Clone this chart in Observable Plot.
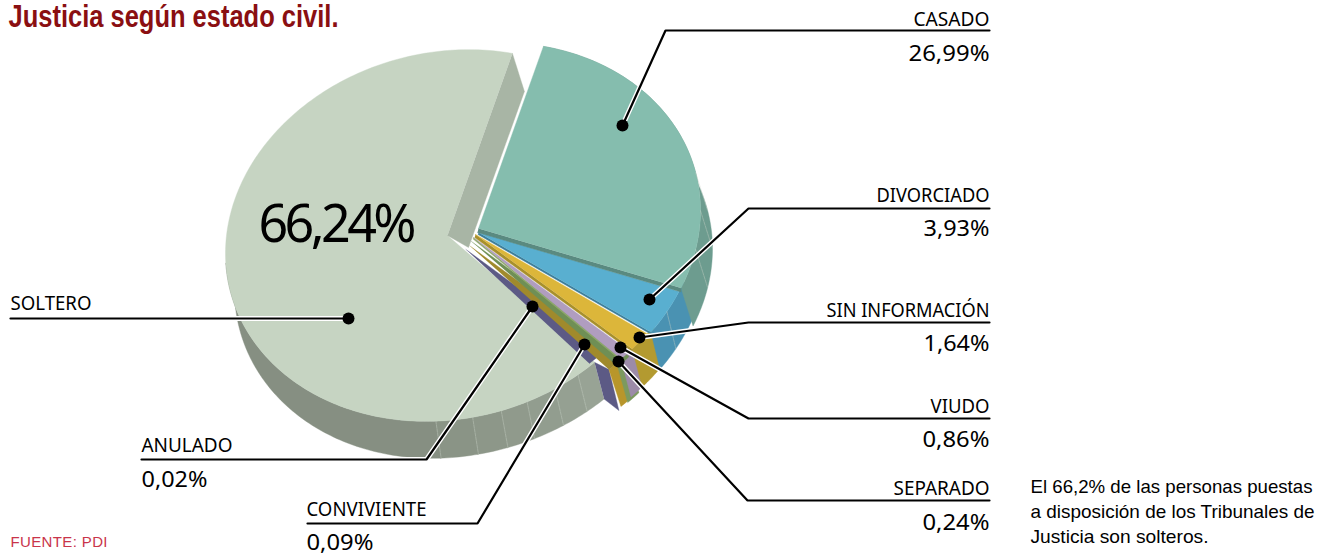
<!DOCTYPE html>
<html lang="es"><head><meta charset="utf-8">
<style>html,body{margin:0;padding:0;background:#fff}svg{display:block}</style>
<script src="https://cdn.jsdelivr.net/npm/d3@7"></script>
<script src="https://cdn.jsdelivr.net/npm/@observablehq/plot@0.6"></script>
</head><body><div id="chart"></div>
<script>
// ---- data ----
const categories = ["SOLTERO","CASADO","DIVORCIADO","SIN INFORMACIÓN","VIUDO","SEPARADO","CONVIVIENTE","ANULADO"];
const shares = [66.24,26.99,3.93,1.64,0.86,0.24,0.09,0.02];
const valueLabels = ["66,24%","26,99%","3,93%","1,64%","0,86%","0,24%","0,09%","0,02%"];
const title = "Justicia según estado civil.";
const source = "FUENTE: PDI";
const note = ["El 66,2% de las personas puestas","a disposición de los Tribunales de","Justicia son solteros."];

// ---- styles ----
const faceColors = ["#c6d4c2","#85bdae","#59afd0","#dcb63a","#b09dbf","#6f8f55","#a08a2c","#5c5a85"];
const wallColors = ["#868f82","#6d9c8f","#4a92b2","#b39a30","#9c8ba8","#7c9a5f","#b8962b","#5c5a85"];
const stripColors = [null,"#5a8a80","#3d7f9a","#a8902c","#8fa96c",null,null,null];

// ---- layout of the tilted, exploded pie ----
const RX = 222, RY = 185, K = 0.08, START = 17, MIN_SWEEP = 1;
const apex = [[447,235],[478,228],[478,232],[475,234],[473,237],[471,241],[469.5,245.5],[465.5,249]];
const reach = [1,1,0.99,0.985,0.98,0.99,0.96,0.87];
const drop = [[5,37],[12,38],[9,37],[10,38],[10,38],[10,36],[12,37],[9,38]];
const stripW = [0,4,2,3,1.5,0,0,0];
const P = (i,th,off=[0,0],rx=RX,ry=RY) => {
  const t = th*Math.PI/180, r = reach[i], sx = rx*r*Math.sin(t);
  return [apex[i][0]+off[0]+sx, apex[i][1]+off[1]-ry*r*Math.cos(t)-K*sx];
};
const arc = (a,b,step=1) => { const o=[]; const n=Math.max(1,Math.ceil((b-a)/step));
  for(let j=0;j<=n;j++) o.push(a+(b-a)*j/n); return o; };
// lower rim of the large slice: narrower on its far-left side
const lowS = t => P(0,t,drop[0],Math.sin(t*Math.PI/180)>0?229:218,185);
const low = (i,t) => i===0 ? lowS(t) : P(i,t,drop[i]);

// angle of every slice is derived from its share; the slimmest keep a visible minimum
const ang = []; let th = START;
shares.forEach((s,i)=>{ if(i===0){ ang[0]=[START+360-s*3.6,START+360]; return; }
  const sw=Math.max(s*3.6,MIN_SWEEP); ang[i]=[th,th+sw]; th+=sw; });
const stackStart = ang[4][0];

// polygons, in painter's order
const polys = [];
const poly = (id,color,pts) => pts.forEach(p=>polys.push({id,color,x:p[0],y:p[1]}));
const wall = (i,a,b,color,tag) => {
  const top = arc(a,b).map(t=>P(i,t));
  const bot = arc(a,b).reverse().map(t=>low(i,t));
  poly("wall"+i+(tag||""),color,[...top,...bot]);
};
const shade = d3.interpolateRgb("#98a395","#8a9486");
const facetEdges = [ang[0][0],144,151,159,166,173.5,183];
for(let f=0;f<facetEdges.length-1;f++) wall(0,facetEdges[f],facetEdges[f+1]+0.2,shade(f/5),"f"+f);
wall(0,183,ang[0][1]-110,wallColors[0],"rest");
{ const a=P(0,ang[0][0]), b=P(6,ang[6][1]);
  poly("quad",wallColors[7],[a,b,[b[0]+10,b[1]+41],lowS(ang[0][0])]); }
for(const i of [6,5,4,3,2,1]) wall(i,i>=5?stackStart:ang[i][0]-(i>1?3:0),ang[i][1],wallColors[i]);
const face = (i,a) => poly("face"+i,faceColors[i],[apex[i],...arc(a,ang[i][1]).map(t=>P(i,t))]);
const strip = i => { if(!stripColors[i]) return;
  const e=P(i,ang[i][1]), w=stripW[i], c=apex[i];
  poly("strip"+i,stripColors[i],[c,e,[e[0],e[1]+w],[c[0]-w/4,c[1]+w]]); };
face(0,ang[0][0]);
{ const a=P(0,ang[0][1]), b=P(0,ang[0][1],[12,38]);
  poly("inner",'#a8b5a5',[a,b,[apex[0][0]+21,apex[0][1]+12],apex[0]]); }
for(const i of [7,6,5]) face(i,stackStart);
strip(4); face(4,ang[4][0]);
strip(3); face(3,ang[3][0]);
strip(2); face(2,ang[2][0]);
strip(1); face(1,ang[1][0]);

const seams = [];
const seam = (i,t) => { const p=P(i,t), q=low(i,t);
  seams.push({id:i+"-"+t,x:p[0],y:p[1]},{id:i+"-"+t,x:q[0],y:q[1]}); };
[144,151,159,166,173.5,183].forEach(t=>seam(0,t));
[78,90,102].forEach(t=>seam(1,t));
seam(2,121);

const leaders = [
 [[348,318],[10,318]],
 [[622,125],[665,30],[989,30]],
 [[649,299],[748,208],[989,208]],
 [[639,337],[748,322],[989,322]],
 [[620,347],[748,418],[989,418]],
 [[618,361],[747,500],[989,500]],
 [[584,344],[477,523],[307,523]],
 [[532,306],[426,459],[141,459]]
];
const leaderPts = leaders.flatMap((l,i)=>l.map(p=>({id:categories[i],x:p[0],y:p[1]})));
const markers = leaders.map((l,i)=>({id:categories[i],x:l[0][0],y:l[0][1]}));

// text placement: x, anchor, name baseline, value baseline, name width, value width
const labelPos = [
 [10,"start",309,null,81,0],[989,"end",25,60,76,81],[989,"end",201,235,113,66],[989,"end",316,350,163,66],
 [989,"end",412,446,59,67],[989,"end",494,529,96,67],[306,"start",515,549,120,67],[141,"start",451,486,91,66]
];
const names = categories.map((c,i)=>({text:c,x:labelPos[i][0],y:labelPos[i][2],a:labelPos[i][1],w:labelPos[i][4]}));
const values = valueLabels.map((c,i)=>({text:c,x:labelPos[i][0],y:labelPos[i][3],a:labelPos[i][1],w:labelPos[i][5]})).filter(d=>d.y);
const fit = (data,adj) => (index,scales,vals,dims,ctx,next) => {
  const g=next(index,scales,vals,dims,ctx);
  g.querySelectorAll("text").forEach((el,j)=>{ el.setAttribute("textLength",data[index[j]].w); el.setAttribute("lengthAdjust",adj); });
  return g; };
const txt = (data,o,adj="spacingAndGlyphs") => Plot.text(data,{x:"x",y:"y",text:"text",lineAnchor:"bottom",render:fit(data,adj),...o});
const label = (data,a,o) => { const d=data.filter(d=>d.a===a); return txt(d,{textAnchor:a,...o}); };
const SANS = "Noto Sans", NARROW = "Liberation Sans";

const chart = Plot.plot({
  width:1330,height:556,margin:0,
  x:{domain:[0,1330],axis:null},
  y:{domain:[556,0],axis:null},
  color:{type:"identity"},
  style:{background:"#fff",overflow:"visible"},
  marks:[
    Plot.line(polys,{x:"x",y:"y",z:"id",fill:"color",stroke:"color",strokeWidth:0.4,curve:"linear"}),
    Plot.line(seams,{x:"x",y:"y",z:"id",stroke:"#c9d0c6",strokeOpacity:0.55,strokeWidth:0.8,strokeDasharray:"3,1"}),
    Plot.line(leaderPts,{x:"x",y:"y",z:"id",stroke:"#fff",strokeWidth:5,strokeLinejoin:"miter"}),
    Plot.line(leaderPts,{x:"x",y:"y",z:"id",stroke:"#000",strokeWidth:2.2,strokeLinejoin:"miter"}),
    Plot.dot(markers,{x:"x",y:"y",r:6,fill:"#000",stroke:"none"}),
    label(names,"start",{fontFamily:SANS,fontSize:19}),
    label(names,"end",{fontFamily:SANS,fontSize:19}),
    label(values,"start",{fontFamily:SANS,fontSize:22}),
    label(values,"end",{fontFamily:SANS,fontSize:22}),
    txt([{text:valueLabels[0],x:258,y:241,w:158}],{textAnchor:"start",fontFamily:SANS,fontSize:52},"spacing"),
    txt([{text:title,x:8,y:26,w:330}],{textAnchor:"start",fontFamily:NARROW,fontWeight:"bold",fontSize:31,fill:"#8a0f12"}),
    txt([{text:source,x:10,y:546,w:97}],{textAnchor:"start",fontFamily:NARROW,fontSize:15,fill:"#c9344a"},"spacing"),
    txt(note.map((t,i)=>({text:t,x:1030,y:[492,517,542][i],w:[282,284,178][i]})),{textAnchor:"start",fontFamily:NARROW,fontSize:19})
  ]
});
document.getElementById("chart").appendChild(chart);
</script></body></html>
